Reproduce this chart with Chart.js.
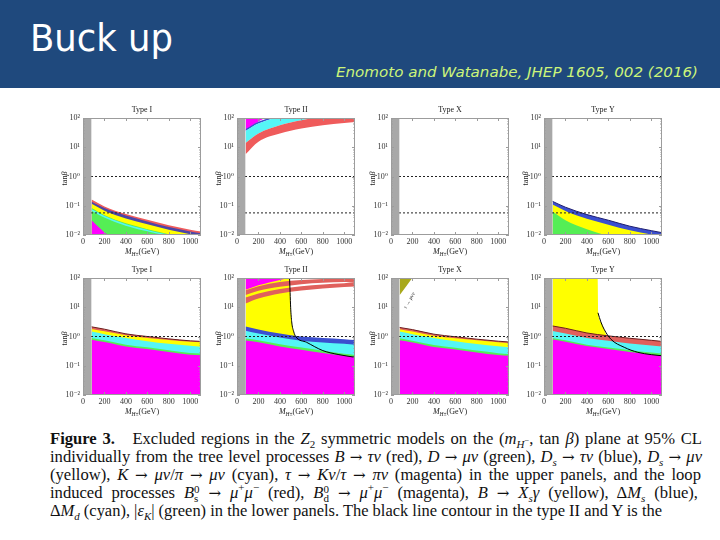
<!DOCTYPE html>
<html>
<head>
<meta charset="utf-8">
<script src="https://cdn.jsdelivr.net/npm/chart.js@4.4.0/dist/chart.umd.min.js"></script>
<style>
html,body{margin:0;padding:0;background:#fff;}
#slide{position:relative;width:720px;height:540px;overflow:hidden;background:#fff;}
#header{position:absolute;left:0;top:0;width:720px;height:88px;background:#1f497d;}
#title{position:absolute;left:30px;top:19px;font:37px/40px "DejaVu Sans",sans-serif;color:#fff;white-space:nowrap;transform-origin:0 0;}
#cite{position:absolute;left:336px;top:64px;font:italic 14px/16px "DejaVu Sans",sans-serif;color:#ccf47a;white-space:nowrap;transform-origin:0 0;}
canvas{position:absolute;}
.cap{position:absolute;left:50px;font:16.6px/18px "Liberation Serif","DejaVu Serif",serif;color:#111;white-space:nowrap;transform-origin:0 0;}
.cap sub,.cap sup{font-size:11px;line-height:0;}
.cap sub sup{font-size:8.5px;}
.ss{display:inline-block;vertical-align:-4px;line-height:9px;font-size:11px;text-align:left;}
.ss span{display:block;}
.ar{font-family:"DejaVu Serif",serif;font-size:15px;}
</style>
</head>
<body>
<div id="slide">
  <div id="header"></div>
  <div id="title">Buck up</div>
  <div id="cite">Enomoto and Watanabe, JHEP 1605, 002 (2016)</div>
  <div class="cap" data-w="652" style="top:430px"><b>Figure 3.</b>&nbsp;&nbsp; Excluded regions in the <i>Z</i><sub>2</sub> symmetric models on the (<i>m</i><sub><i>H</i><sup>−</sup></sub>, tan <i>β</i>) plane at 95% CL</div>
  <div class="cap" data-w="652" style="top:448px">individually from the tree level processes <i>B</i> <span class="ar">→</span> <i>τν</i> (red), <i>D</i> <span class="ar">→</span> <i>μν</i> (green), <i>D<sub>s</sub></i> <span class="ar">→</span> <i>τν</i> (blue), <i>D<sub>s</sub></i> <span class="ar">→</span> <i>μν</i></div>
  <div class="cap" data-w="651" style="top:466px">(yellow), <i>K</i> <span class="ar">→</span> <i>μν</i>/<i>π</i> <span class="ar">→</span> <i>μν</i> (cyan), <i>τ</i> <span class="ar">→</span> <i>Kν</i>/<i>τ</i> <span class="ar">→</span> <i>πν</i> (magenta) in the upper panels, and the loop</div>
  <div class="cap" data-w="648" style="top:484px">induced processes <i>B</i><span class="ss"><span>0</span><span>s</span></span> <span class="ar">→</span> <i>μ</i><sup>+</sup><i>μ</i><sup>−</sup> (red), <i>B</i><span class="ss"><span>0</span><span>d</span></span> <span class="ar">→</span> <i>μ</i><sup>+</sup><i>μ</i><sup>−</sup> (magenta), <i>B</i> <span class="ar">→</span> <i>X<sub>s</sub>γ</i> (yellow), Δ<i>M<sub>s</sub></i> (blue),</div>
  <div class="cap" data-w="612" style="top:502px">Δ<i>M<sub>d</sub></i> (cyan), |<i>ε<sub>K</sub></i>| (green) in the lower panels. The black line contour in the type II and Y is the</div>
</div>
<script>
// ---------------- DATA ----------------
const massGeV = [80, 200, 400, 600, 800, 1000, 1100];
const lepBoundMass = [0, 80];
const lepBoundTanBeta = [100, 100];
const xTickValues = [0, 200, 400, 600, 800, 1000];
const yTickValues = [0.01, 0.1, 1, 10, 100];
const yTickLabels = ['10⁻²', '10⁻¹', '10⁰', '10¹', '10²'];
const panelTitles = ['Type I', 'Type II', 'Type X', 'Type Y'];
const upperDashedTanBeta = [1, 0.057];
const lowerDashedTanBeta = [1];
const dashedMass = [0, 1100];

// Upper row: tree-level processes (tan beta boundaries at massGeV)
const upperI_BtauNu  = [0.162, 0.095, 0.052, 0.033, 0.0214, 0.0151, 0.0132];
const upperI_DsTauNu = [0.138, 0.083, 0.046, 0.029, 0.0186, 0.0132, 0.0115];
const upperI_DsMuNu  = [0.117, 0.068, 0.037, 0.0234, 0.0151, 0.0107, 0.0093];
const upperI_DMuNu   = [0.083, 0.047, 0.025, 0.0158, 0.0107, 0.0079, 0.0071];
const upperI_KMuNu   = [0.072, 0.042, 0.022, 0.0141, 0.0098, 0.0076, 0.0066];
const upperI_tauKNuMass = [80, 150, 250, 300];
const upperI_tauKNu     = [0.032, 0.018, 0.0089, 0.007];

const upperII_BtauNuLow   = [5.75, 15.5, 29.5, 43.7, 56.2, 67.6, 72.4];
const upperII_BtauNuHigh  = [14.1, 29.5, 56.2, 83.2, 112, 141, 158];
const upperII_KMuNuHigh   = [36.3, 64.6, 112, 158, 200, 251, 282];
const upperII_DsTauNuHigh = [41.7, 74.1, 126, 178, 224, 282, 316];
const upperII_tauKNuMass  = [80, 150, 220, 260];
const upperII_tauKNuLow   = [35.5, 56.2, 83.2, 100];

const upperY_DsTauNu   = [0.141, 0.089, 0.050, 0.032, 0.020, 0.0141, 0.012];
const upperY_DsMuNu    = [0.110, 0.066, 0.036, 0.0225, 0.0145, 0.0105, 0.0093];
const upperY_DMuNuMass = [80, 200, 400, 600, 700];
const upperY_DMuNu     = [0.063, 0.032, 0.0158, 0.0093, 0.0079];

// Lower row: loop-induced processes
const lowerI_BsMuMu   = [2.14, 1.78, 1.23, 1.0, 0.83, 0.71, 0.68];
const lowerI_BXsGamma = [1.82, 1.51, 1.10, 0.89, 0.76, 0.66, 0.63];
const lowerI_DeltaMd  = [1.48, 1.20, 0.89, 0.69, 0.56, 0.48, 0.45];
const lowerI_epsK     = [0.89, 0.74, 0.525, 0.427, 0.339, 0.275, 0.263];
const lowerI_BdMuMu   = [0.776, 0.646, 0.457, 0.372, 0.295, 0.24, 0.229];

const lowerII_BXsGammaMass   = [80, 490, 495, 500, 510, 530, 545];
const lowerII_BXsGamma       = [100, 100, 31.6, 10, 3.16, 1.41, 1.0];
const lowerII_BdMuMuHighMass = [80, 200, 300, 400, 480];
const lowerII_BdMuMuHigh     = [39.8, 56.2, 70.8, 85.1, 100];
const lowerII_BsMuMuA_low  = [13.5, 20.0, 29.5, 37.2, 43.7, 49.0, 51.3];
const lowerII_BsMuMuA_high = [21.4, 29.5, 41.7, 52.5, 60.3, 66.1, 72.4];
const lowerII_BsMuMuB_low  = [26.3, 36.3, 50.1, 61.7, 69.2, 72.4, 72.4];
const lowerII_BsMuMuB_high = [38.0, 52.5, 72.4, 85.1, 93.3, 100, 105];
const lowerII_DeltaMs   = [2.19, 1.74, 1.26, 1.0, 0.89, 0.81, 0.76];
const lowerII_DeltaMd   = [1.58, 1.26, 0.93, 0.72, 0.62, 0.56, 0.525];
const lowerII_epsK      = [0.85, 0.74, 0.54, 0.417, 0.324, 0.257, 0.234];
const lowerII_BdMuMuLow = [0.724, 0.631, 0.457, 0.355, 0.275, 0.219, 0.2];
const lowerII_contourMass = [490, 495, 500, 510, 530, 547, 650, 800, 950, 1100];
const lowerII_contour     = [100, 31.6, 10, 3.16, 1.41, 1.0, 0.63, 0.33, 0.24, 0.195];

const lowerX_BsMuMu   = [2.04, 1.72, 1.2, 0.98, 0.81, 0.69, 0.65];
const lowerX_BXsGamma = [1.78, 1.48, 1.07, 0.87, 0.74, 0.64, 0.6];
const lowerX_DeltaMd  = [1.48, 1.2, 0.89, 0.69, 0.55, 0.46, 0.43];
const lowerX_epsK     = [0.87, 0.72, 0.51, 0.41, 0.33, 0.27, 0.25];
const lowerX_BdMuMu   = [0.74, 0.62, 0.44, 0.36, 0.285, 0.232, 0.219];
const lowerX_tauMuNuMass = [80, 198];
const lowerX_tauMuNu     = [25.7, 100];
const lowerX_tauMuNuLabel = 'τ → μνν';

const lowerY_BXsGammaMass = [80, 500, 506, 530, 560, 585];
const lowerY_BXsGamma     = [100, 100, 6.46, 3.16, 1.78, 1.0];
const lowerY_BsMuMu   = [2.29, 1.91, 1.32, 1.05, 0.87, 0.74, 0.68];
const lowerY_DeltaMd  = [1.55, 1.26, 0.89, 0.71, 0.575, 0.49, 0.457];
const lowerY_epsK     = [0.89, 0.74, 0.525, 0.417, 0.339, 0.282, 0.263];
const lowerY_BdMuMu   = [0.79, 0.66, 0.47, 0.372, 0.295, 0.24, 0.219];
const lowerY_contourMass = [503, 530, 560, 623, 748, 874, 1000, 1100];
const lowerY_contour     = [6.46, 3.16, 1.78, 0.81, 0.427, 0.288, 0.24, 0.219];

// ---------------- STYLE ----------------
const COL = {
  red: '#ef5b5b', red2: '#e0605c', redEdge: '#6b1d1d',
  blue: '#3b4fcf', blueDark: '#4b46a8', navy: '#1c1c70',
  yellow: '#ffff00', green: '#55ee55', cyan: '#55f6f6',
  magenta: '#ff00ff', gray: '#a8a8a8', olive: '#a9a91c', none: 'rgba(0,0,0,0)'
};
const SERIF = '"Liberation Serif","DejaVu Serif",serif';
const PLOT_LEFTS = [83, 237, 391, 544];
const PLOT_TOPS = [118, 278];
const PLOT_W = 118, PLOT_H = 117, PAD_L = 36, PAD_T = 16, PAD_R = 6, PAD_B = 26;

function xy(xs, ys) { return xs.map((x, i) => ({x: x, y: ys[i]})); }
function base(xs, ys) {
  return {data: xy(xs, ys), pointRadius: 0, cubicInterpolationMode: 'monotone',
          borderColor: COL.none, backgroundColor: COL.none, borderWidth: 0, fill: false};
}
function below(xs, ys, color, edge) {
  const d = base(xs, ys);
  d.fill = 'start'; d.backgroundColor = color;
  if (edge) { d.borderColor = edge; d.borderWidth = 1; }
  return [d];
}
function above(xs, ys, color) {
  const d = base(xs, ys);
  d.fill = 'end'; d.backgroundColor = color;
  return [d];
}
function between(xs, lo, hi, color, edge) {
  const a = base(xs, lo);
  const b = base(xs, hi);
  b.fill = '-1'; b.backgroundColor = color;
  if (edge) { b.borderColor = edge; b.borderWidth = 1; }
  return [a, b];
}
function curve(xs, ys, color, width, dash) {
  const d = base(xs, ys);
  d.borderColor = color; d.borderWidth = width;
  if (dash) { d.borderDash = dash; d.cubicInterpolationMode = 'default'; d.tension = 0; }
  return [d];
}
function dashed(levels) {
  return [].concat(...levels.map(v => curve(dashedMass, [v, v], '#222', 1, [2, 2])));
}
function gray() { return below(lepBoundMass, lepBoundTanBeta, COL.gray); }

const panels = [
  {row: 0, col: 0, title: panelTitles[0], layers: [
    below(massGeV, upperI_BtauNu, COL.red),
    below(massGeV, upperI_DsTauNu, COL.blueDark),
    below(massGeV, upperI_DsMuNu, COL.yellow),
    below(massGeV, upperI_DMuNu, COL.green),
    curve(massGeV, upperI_KMuNu, COL.cyan, 1.5),
    below(upperI_tauKNuMass, upperI_tauKNu, COL.magenta),
    dashed(upperDashedTanBeta), gray()]},
  {row: 0, col: 1, title: panelTitles[1], layers: [
    above(upperII_tauKNuMass, upperII_tauKNuLow, COL.magenta),
    between(massGeV, upperII_KMuNuHigh, upperII_DsTauNuHigh, COL.blue),
    between(massGeV, upperII_BtauNuHigh, upperII_KMuNuHigh, COL.cyan),
    between(massGeV, upperII_BtauNuLow, upperII_BtauNuHigh, COL.red),
    dashed(upperDashedTanBeta), gray()]},
  {row: 0, col: 2, title: panelTitles[2], layers: [
    dashed(upperDashedTanBeta), gray()]},
  {row: 0, col: 3, title: panelTitles[3], layers: [
    below(massGeV, upperY_DsTauNu, COL.blue, COL.navy),
    below(massGeV, upperY_DsMuNu, COL.yellow),
    below(upperY_DMuNuMass, upperY_DMuNu, COL.green),
    dashed(upperDashedTanBeta), gray()]},
  {row: 1, col: 0, title: panelTitles[0], layers: [
    below(massGeV, lowerI_BsMuMu, COL.red2, COL.redEdge),
    below(massGeV, lowerI_BXsGamma, COL.yellow),
    below(massGeV, lowerI_DeltaMd, COL.cyan),
    below(massGeV, lowerI_epsK, COL.green),
    below(massGeV, lowerI_BdMuMu, COL.magenta),
    dashed(lowerDashedTanBeta), gray()]},
  {row: 1, col: 1, title: panelTitles[1], layers: [
    below(lowerII_BXsGammaMass, lowerII_BXsGamma, COL.yellow),
    above(lowerII_BdMuMuHighMass, lowerII_BdMuMuHigh, COL.magenta),
    between(massGeV, lowerII_BsMuMuA_low, lowerII_BsMuMuA_high, COL.red2),
    between(massGeV, lowerII_BsMuMuB_low, lowerII_BsMuMuB_high, COL.red2),
    below(massGeV, lowerII_DeltaMs, COL.blue),
    below(massGeV, lowerII_DeltaMd, COL.cyan),
    below(massGeV, lowerII_epsK, COL.green),
    below(massGeV, lowerII_BdMuMuLow, COL.magenta),
    dashed(lowerDashedTanBeta),
    curve(lowerII_contourMass, lowerII_contour, '#000', 1),
    gray()]},
  {row: 1, col: 2, title: panelTitles[2], label: {text: lowerX_tauMuNuLabel, x: 172, y: 17, angle: -60}, layers: [
    above(lowerX_tauMuNuMass, lowerX_tauMuNu, COL.olive),
    below(massGeV, lowerX_BsMuMu, COL.red2, COL.redEdge),
    below(massGeV, lowerX_BXsGamma, COL.yellow),
    below(massGeV, lowerX_DeltaMd, COL.cyan),
    below(massGeV, lowerX_epsK, COL.green),
    below(massGeV, lowerX_BdMuMu, COL.magenta),
    dashed(lowerDashedTanBeta), gray()]},
  {row: 1, col: 3, title: panelTitles[3], layers: [
    below(lowerY_BXsGammaMass, lowerY_BXsGamma, COL.yellow),
    below(massGeV, lowerY_BsMuMu, COL.red2, COL.redEdge),
    below(massGeV, lowerY_DeltaMd, COL.cyan),
    below(massGeV, lowerY_epsK, COL.green),
    below(massGeV, lowerY_BdMuMu, COL.magenta),
    dashed(lowerDashedTanBeta),
    curve(lowerY_contourMass, lowerY_contour, '#000', 1),
    gray()]}
];

function decor(panel) {
  return {
    id: 'panelDecor',
    afterDatasetsDraw(chart) {
      const a = chart.chartArea, ctx = chart.ctx, xs = chart.scales.x, ys = chart.scales.y;
      ctx.save();
      ctx.strokeStyle = '#9c9c9c'; ctx.lineWidth = 1;
      ctx.strokeRect(a.left + 0.5, a.top + 0.5, a.right - a.left - 1, a.bottom - a.top - 1);
      ctx.beginPath();
      xTickValues.forEach(v => {
        const p = Math.round(xs.getPixelForValue(v)) + 0.5;
        ctx.moveTo(p, a.bottom); ctx.lineTo(p, a.bottom - 3);
        ctx.moveTo(p, a.top); ctx.lineTo(p, a.top + 3);
      });
      yTickValues.slice(0, -1).forEach(d => {
        for (let k = 1; k <= 9; k++) {
          const p = Math.round(ys.getPixelForValue(d * k)) + 0.5;
          const len = k === 1 ? 3 : 1.5;
          ctx.moveTo(a.right, p); ctx.lineTo(a.right - len, p);
          ctx.moveTo(a.left, p); ctx.lineTo(a.left + len, p);
        }
      });
      ctx.stroke();
      ctx.restore();
    },
    afterDraw(chart) {
      const a = chart.chartArea, ctx = chart.ctx;
      const cx = (a.left + a.right) / 2;
      ctx.save();
      ctx.fillStyle = '#222';
      ctx.font = '8px ' + SERIF;
      ctx.textAlign = 'center'; ctx.textBaseline = 'middle';
      ctx.fillText(panel.title, cx, a.top - 8);
      ctx.textAlign = 'left'; ctx.textBaseline = 'alphabetic';
      const parts = [
        {t: 'M', f: 'italic 8px ' + SERIF, dy: 0},
        {t: 'H±', f: 'italic 5.5px ' + SERIF, dy: 2},
        {t: '(GeV)', f: '8px ' + SERIF, dy: 0}
      ];
      let tw = 0;
      parts.forEach(p => { ctx.font = p.f; p.w = ctx.measureText(p.t).width; tw += p.w; });
      let px = cx - tw / 2;
      const by = a.bottom + 19;
      parts.forEach(p => { ctx.font = p.f; ctx.fillText(p.t, px, by + p.dy); px += p.w; });
      ctx.save();
      ctx.translate(a.left - 19, (a.top + a.bottom) / 2 + 2);
      ctx.rotate(-Math.PI / 2);
      const yp = [{t: 'tan', f: '8px ' + SERIF}, {t: 'β', f: 'italic 8px ' + SERIF}];
      let yw = 0;
      yp.forEach(p => { ctx.font = p.f; p.w = ctx.measureText(p.t).width; yw += p.w; });
      let qx = -yw / 2;
      yp.forEach(p => { ctx.font = p.f; ctx.fillText(p.t, qx, 3); qx += p.w; });
      ctx.restore();
      if (panel.label) {
        const L = panel.label;
        ctx.save();
        ctx.translate(chart.scales.x.getPixelForValue(L.x), chart.scales.y.getPixelForValue(L.y));
        ctx.rotate(L.angle * Math.PI / 180);
        ctx.font = 'italic 5.5px ' + SERIF;
        ctx.textAlign = 'center'; ctx.textBaseline = 'middle';
        ctx.fillText(L.text, 0, 0);
        ctx.restore();
      }
      ctx.restore();
    }
  };
}

const slide = document.getElementById('slide');
panels.forEach(panel => {
  const cv = document.createElement('canvas');
  const W = PAD_L + PLOT_W + PAD_R, H = PAD_T + PLOT_H + PAD_B;
  cv.width = W; cv.height = H;
  cv.style.width = W + 'px'; cv.style.height = H + 'px';
  cv.style.left = (PLOT_LEFTS[panel.col] - PAD_L) + 'px';
  cv.style.top = (PLOT_TOPS[panel.row] - PAD_T) + 'px';
  slide.appendChild(cv);
  const datasets = [].concat(...panel.layers);
  const n = datasets.length;
  datasets.forEach((d, i) => { d.order = n - i; });
  new Chart(cv, {
    type: 'line',
    data: {datasets: datasets},
    options: {
      responsive: false, animation: false, devicePixelRatio: 1,
      layout: {padding: {left: 0, top: PAD_T, right: PAD_R, bottom: 0}},
      plugins: {legend: {display: false}, tooltip: {enabled: false}, title: {display: false}},
      elements: {point: {radius: 0}},
      scales: {
        x: {
          type: 'linear', min: 0, max: 1100,
          afterBuildTicks: s => { s.ticks = xTickValues.map(v => ({value: v})); },
          afterFit: s => { s.height = PAD_B; s.paddingLeft = 0; s.paddingRight = 0; },
          ticks: {callback: v => String(v), font: {family: SERIF, size: 8}, color: '#333', padding: 2, maxRotation: 0, autoSkip: false},
          grid: {display: false, drawTicks: false}, border: {display: false}
        },
        y: {
          type: 'logarithmic', min: 0.01, max: 100,
          afterBuildTicks: s => { s.ticks = yTickValues.map(v => ({value: v})); },
          afterFit: s => { s.width = PAD_L; s.paddingTop = 0; s.paddingBottom = 0; },
          ticks: {callback: (v, i) => yTickLabels[i], font: {family: SERIF, size: 8}, color: '#333', padding: 3, autoSkip: false},
          grid: {display: false, drawTicks: false}, border: {display: false}
        }
      }
    },
    plugins: [decor(panel)]
  });
});

function fitScale(el, target) {
  const w = el.getBoundingClientRect().width;
  if (w > 0) el.style.transform = 'scaleX(' + (target / w) + ')';
}
fitScale(document.getElementById('title'), 143);
fitScale(document.getElementById('cite'), 362);
document.querySelectorAll('.cap').forEach(el => {
  const target = +el.dataset.w;
  const w = el.getBoundingClientRect().width;
  const spaces = (el.textContent.match(/[ \u00a0]/g) || []).length;
  if (w < target && spaces) el.style.wordSpacing = ((target - w) / spaces) + 'px';
  else el.style.transform = 'scaleX(' + (target / w) + ')';
});
</script>
</body>
</html>
